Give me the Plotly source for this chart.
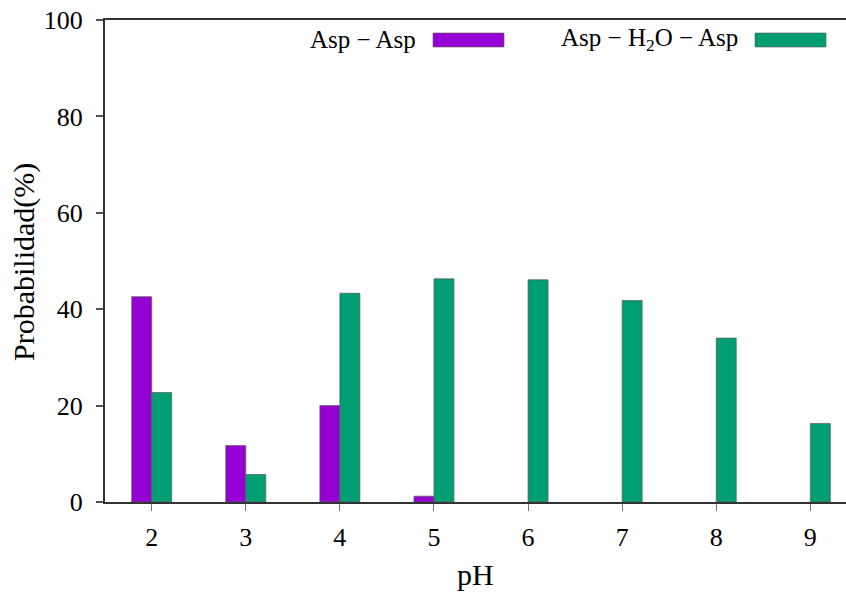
import plotly.graph_objects as go

ph = [2, 3, 4, 5, 6, 7, 8, 9]
asp_asp = [42.6, 11.7, 20.0, 1.2, 0, 0, 0, 0]
asp_h2o_asp = [22.7, 5.7, 43.3, 46.3, 46.1, 41.8, 34.0, 16.3]
y_ticks = [0, 20, 40, 60, 80, 100]

PURPLE = "#9400d3"
GREEN = "#009e73"
FONT = "Liberation Serif"

W, H = 846, 592
L, R, T, B = 105, 0, 20, 90
PW, PH = W - L - R, H - T - B

def px_x(x):
    return (x - L) / PW

def px_y(y):
    return (H - B - y) / PH

def outline(vals):
    return [1 if v > 0 else 0 for v in vals]

fig = go.Figure()
fig.add_trace(go.Bar(x=ph, y=asp_asp, name="Asp − Asp",
                     marker=dict(color=PURPLE,
                                 line=dict(color="rgba(90,90,90,0.7)", width=outline(asp_asp)))))
fig.add_trace(go.Bar(x=ph, y=asp_h2o_asp, name="Asp − H₂O − Asp",
                     marker=dict(color=GREEN,
                                 line=dict(color="rgba(90,90,90,0.7)", width=outline(asp_h2o_asp)))))

fig.update_layout(
    width=W, height=H,
    margin=dict(l=L, r=R, t=T, b=B),
    paper_bgcolor="white", plot_bgcolor="white",
    barmode="group", bargap=0.575, bargroupgap=0,
    showlegend=False,
    font=dict(family=FONT, color="black"),
)
fig.update_xaxes(
    range=[1.504, 9.379], tickvals=ph, ticktext=[str(v) for v in ph],
    showline=True, linecolor="#333", linewidth=2, mirror=True,
    ticks="outside", ticklen=7, tickcolor="#777", tickwidth=1,
    showgrid=False, zeroline=False,
    tickfont=dict(size=26, family=FONT), ticklabelstandoff=4,
)
fig.update_yaxes(
    range=[0, 100], tickvals=y_ticks,
    showline=True, linecolor="#333", linewidth=2, mirror=False,
    ticks="outside", ticklen=7, tickcolor="#555", tickwidth=1.5,
    showgrid=False, zeroline=False,
    tickfont=dict(size=26, family=FONT), ticklabelstandoff=8,
)

# axis titles
fig.add_annotation(text="pH", xref="paper", yref="paper",
                   x=px_x(475), y=px_y(574), showarrow=False,
                   font=dict(size=30, family=FONT), xanchor="center", yanchor="middle")
fig.add_annotation(text="Probabilidad(%)", xref="paper", yref="paper",
                   x=px_x(24), y=px_y(262), showarrow=False, textangle=-90,
                   font=dict(size=30, family=FONT), xanchor="center", yanchor="middle")

# gnuplot-style key: text then sample box
legend_items = [
    ("Asp − Asp", 418, 433, 504, PURPLE),
    ("Asp − H<sub>2</sub>O − Asp", 740, 755, 826, GREEN),
]
for label, txt_right, bx0, bx1, col in legend_items:
    fig.add_annotation(text=label, xref="paper", yref="paper",
                       x=px_x(txt_right), y=px_y(40), showarrow=False,
                       xanchor="right", yanchor="middle",
                       font=dict(size=25, family=FONT))
    fig.add_shape(type="rect", xref="paper", yref="paper",
                  x0=px_x(bx0), x1=px_x(bx1), y0=px_y(47), y1=px_y(33),
                  fillcolor=col, line=dict(color="rgba(90,90,90,0.6)", width=1))

fig.write_html("out.html")
